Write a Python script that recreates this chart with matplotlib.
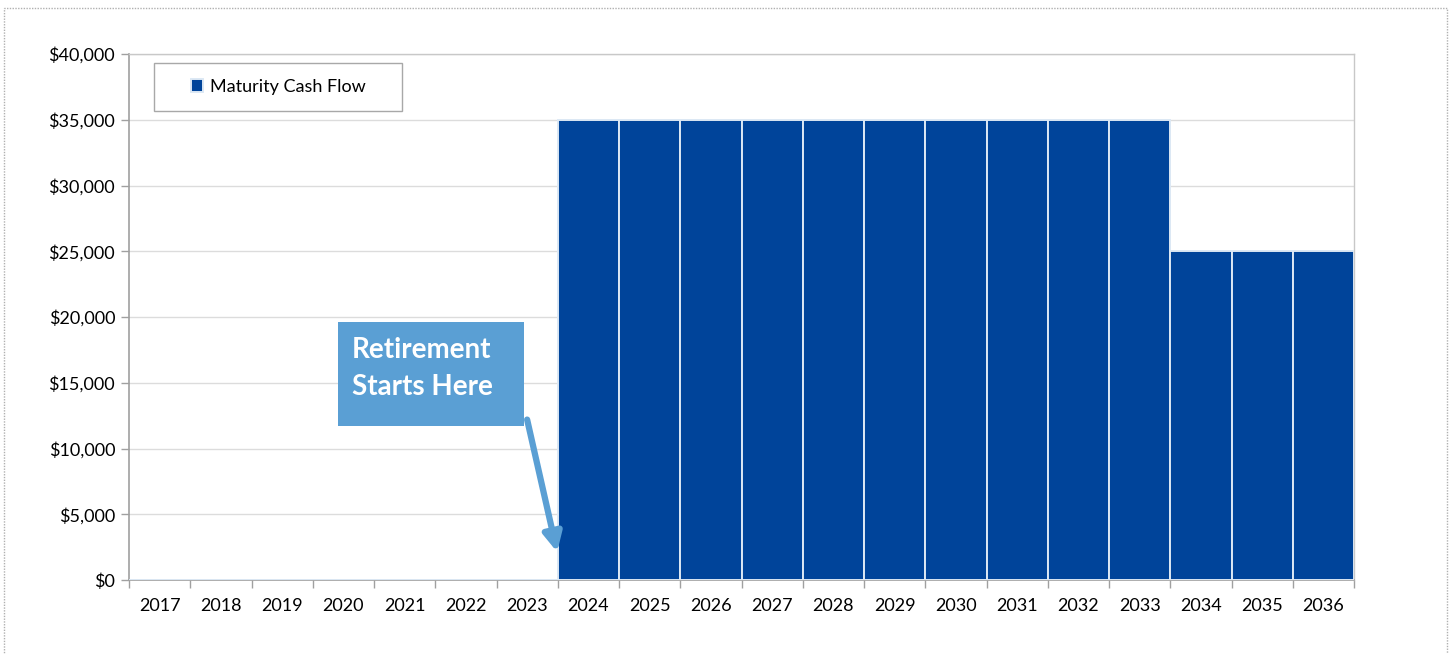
import matplotlib
matplotlib.use("Agg")
import matplotlib.pyplot as plt
from matplotlib.patches import Rectangle
from matplotlib.ticker import FuncFormatter, MultipleLocator, FixedLocator

plt.rcParams['font.family'] = ['Lato', 'DejaVu Sans']

years = [str(y) for y in range(2017, 2037)]
cash_flow = [0, 0, 0, 0, 0, 0, 0,
             35000, 35000, 35000, 35000, 35000, 35000, 35000, 35000, 35000, 35000,
             25000, 25000, 25000]

bar_color = '#00449A'
callout_color = '#5A9FD4'
axis_gray = '#A0A0A0'
grid_gray = '#DCDCDC'

fig = plt.figure(figsize=(14.5, 6.54), dpi=100)
ax = fig.add_axes([129 / 1450, 1 - 580 / 654, 1225 / 1450, 526 / 654])

# dotted frame around the chart object
fig.patches.append(Rectangle((4 / 1450, -0.05), 1443 / 1450, 1 - 8 / 654 + 0.05,
                             transform=fig.transFigure, fill=False,
                             edgecolor='#B0B0B0', linestyle=(0, (1, 1)), linewidth=1))

x = range(len(years))
ax.bar(x, cash_flow, width=1.0, color=bar_color, edgecolor='#DCE8F4',
       linewidth=1.4, zorder=3, label='Maturity Cash Flow')

ax.set_xlim(-0.5, len(years) - 0.5)
ax.set_ylim(0, 40000)
ax.yaxis.set_major_locator(MultipleLocator(5000))
ax.yaxis.set_major_formatter(FuncFormatter(lambda v, p: f'${v:,.0f}'))
ax.grid(axis='y', color=grid_gray, linewidth=1, zorder=0)

# category labels at centres, tick marks on the category boundaries
ax.set_xticks(list(x))
ax.set_xticklabels(years)
ax.tick_params(axis='x', length=0, pad=13, labelsize=13, colors='black')
ax.xaxis.set_minor_locator(FixedLocator([i - 0.5 for i in range(len(years) + 1)]))
ax.tick_params(axis='x', which='minor', length=6, width=1, color=axis_gray, direction='out')
ax.tick_params(axis='y', length=6, width=1, color=axis_gray, direction='out',
               labelsize=13, pad=4)

for side in ['left', 'bottom']:
    ax.spines[side].set_color(axis_gray)
    ax.spines[side].set_linewidth(1.2)
for side in ['top', 'right']:
    ax.spines[side].set_color('#C8C8C8')
    ax.spines[side].set_linewidth(1)

# legend with a square frame
lx0, ly0, lw, lh = 25 / 1225, 1 - 57 / 526, 248 / 1225, 48 / 526
ax.add_patch(Rectangle((lx0, ly0), lw, lh, transform=ax.transAxes, fill=True,
                       facecolor='white', edgecolor='#A8A8A8', linewidth=1, zorder=5))
leg = ax.legend(loc='center', bbox_to_anchor=(lx0, ly0, lw, lh), frameon=False,
                fontsize=13, handlelength=0.7, handleheight=0.7, handletextpad=0.35,
                borderaxespad=0)
leg.set_zorder(6)

# callout box with arrow pointing at the first maturity year
ax.add_patch(Rectangle((2.912, 11711), 3.037, 7909, facecolor=callout_color,
                       edgecolor='none', zorder=6))
ax.text(3.14, 18450, 'Retirement\nStarts Here', color='white', fontsize=20,
        fontweight='bold', va='top', ha='left', linespacing=1.5, zorder=7)
ax.annotate('', xy=(6.49, 2130), xytext=(6.0, 12200),
            arrowprops=dict(arrowstyle='-|>,head_length=1.1,head_width=0.55',
                            color=callout_color, lw=4.5, shrinkA=0, shrinkB=0),
            zorder=7)

fig.savefig('out.png', dpi=100)
